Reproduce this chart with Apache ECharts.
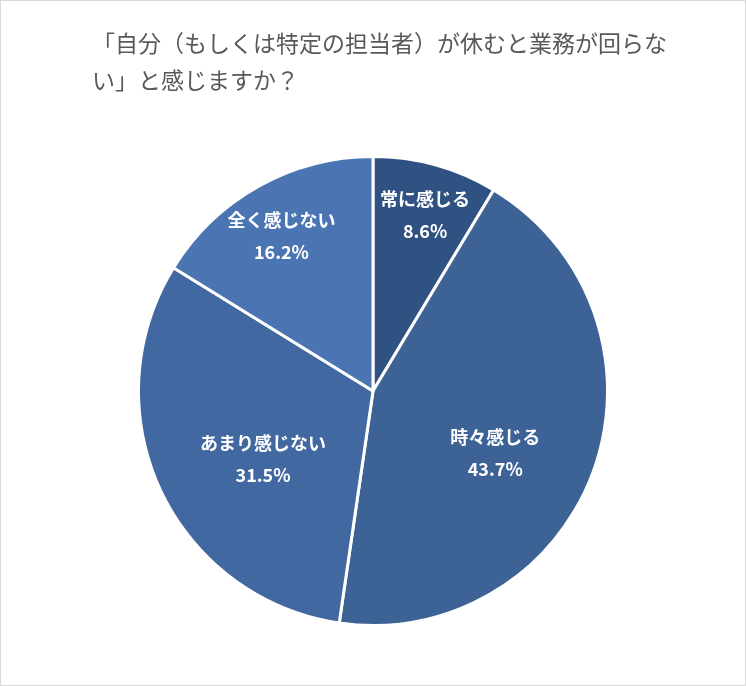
<!DOCTYPE html>
<html>
<head>
<meta charset="utf-8">
<script src="https://cdn.jsdelivr.net/npm/echarts@6/dist/echarts.min.js"></script>
<style>
html,body{margin:0;padding:0;background:#fff;}
#c{width:746px;height:686px;box-sizing:border-box;border:1px solid #d9d9d9;}
</style>
</head>
<body>
<div id="c"></div>
<script>
const titleLines = ['「自分（もしくは特定の担当者）が休むと業務が回らな', 'い」と感じますか？'];
const categories = ['常に感じる', '時々感じる', 'あまり感じない', '全く感じない'];
const values = [8.6, 43.7, 31.5, 16.2];
const colors = ['#2f5282', '#3d6396', '#4268a1', '#4a75b2'];
const labelOffsets = [[20, -60], [9, 22], [-1, 17], [-33, -50]];

const chart = echarts.init(document.getElementById('c'));
chart.setOption({
  animation: false,
  title: {
    text: titleLines.join('\n'),
    left: 86,
    top: 19,
    textStyle: {
      fontFamily: 'Noto Sans CJK JP',
      fontSize: 23,
      fontWeight: 'normal',
      color: '#595959',
      lineHeight: 37
    }
  },
  series: [{
    type: 'pie',
    center: [372, 390],
    radius: 234.5,
    startAngle: 90,
    clockwise: true,
    avoidLabelOverlap: false,
    itemStyle: { borderColor: '#ffffff', borderWidth: 3 },
    label: {
      show: true,
      position: 'inside',
      formatter: p => p.name + '\n' + p.value.toFixed(1) + '%',
      color: '#ffffff',
      fontFamily: 'Noto Sans CJK JP',
      fontWeight: 'bold',
      fontSize: 18,
      lineHeight: 32
    },
    labelLine: { show: false },
    emphasis: { disabled: true },
    data: categories.map((n, i) => ({
      name: n,
      value: values[i],
      itemStyle: { color: colors[i] },
      label: { offset: labelOffsets[i] }
    }))
  }]
});
</script>
</body>
</html>
